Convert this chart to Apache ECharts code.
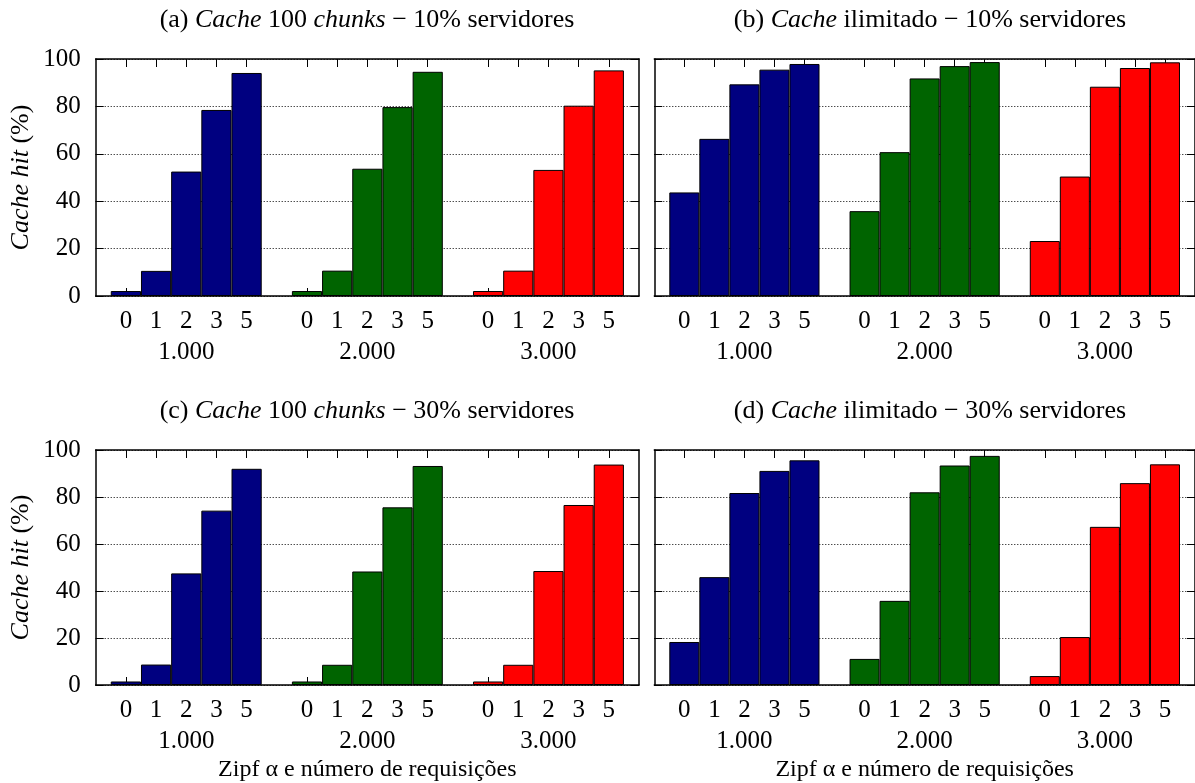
<!DOCTYPE html>
<html><head><meta charset="utf-8">
<script src="https://cdn.jsdelivr.net/npm/echarts@6/dist/echarts.min.js"></script>
<style>html,body{margin:0;padding:0;background:#fff}#c{width:1195px;height:783px}</style>
</head><body><div id="c"></div>
<script>
// ---- data ----
const alphas = ['0', '1', '2', '3', '5'];
const requests = ['1.000', '2.000', '3.000'];
const yTicks = [0, 20, 40, 60, 80, 100];
const titleA = '(a) {i|Cache} 100 {i|chunks} \u2212 10% servidores';
const titleB = '(b) {i|Cache} ilimitado \u2212 10% servidores';
const titleC = '(c) {i|Cache} 100 {i|chunks} \u2212 30% servidores';
const titleD = '(d) {i|Cache} ilimitado \u2212 30% servidores';
const yName = '{i|Cache hit} (%)';
const xName = 'Zipf \u03b1 e n\u00famero de requisi\u00e7\u00f5es';
// panel (a): one array per request count, values per alpha
const a1000 = [2.1, 10.6, 52.5, 78.5, 94.1];
const a2000 = [2.1, 10.7, 53.7, 79.7, 94.6];
const a3000 = [2.1, 10.7, 53.2, 80.3, 95.2];
// panel (b)
const b1000 = [43.7, 66.3, 89.3, 95.5, 97.9];
const b2000 = [35.8, 60.7, 91.8, 97.0, 98.7];
const b3000 = [23.2, 50.4, 88.3, 96.2, 98.6];
// panel (c)
const c1000 = [1.5, 8.7, 47.5, 74.2, 92.0];
const c2000 = [1.5, 8.6, 48.3, 75.6, 93.2];
const c3000 = [1.5, 8.6, 48.5, 76.6, 93.8];
// panel (d)
const d1000 = [18.3, 45.9, 81.7, 91.1, 95.6];
const d2000 = [11.1, 35.8, 82.0, 93.4, 97.5];
const d3000 = [3.8, 20.4, 67.3, 85.9, 93.9];
const colors = ['#000080', '#006400', '#ff0000'];

// ---- slots: empty, group0 (5), empty, group1, empty, group2, empty ----
const slots = [];
slots.push(null);
requests.forEach((r, g) => {
  alphas.forEach((a, i) => slots.push({g: g, i: i}));
  slots.push(null);
});
const catKeys = slots.map((s, k) => 'k' + k);

const FONT = 'Liberation Serif';
const FS = 25;     // tick labels
const FT = 26;     // titles and y name
const FX = 24;     // x name
const panels = [
  {title: titleA, data: [a1000, a2000, a3000], left: 95.7, top: 59, yname: true, xname: false, tx: 362},
  {title: titleB, data: [b1000, b2000, b3000], left: 654.3, top: 59, yname: false, xname: false, tx: 925},
  {title: titleC, data: [c1000, c2000, c3000], left: 95.7, top: 450, yname: true, xname: true, tx: 362},
  {title: titleD, data: [d1000, d2000, d3000], left: 654.3, top: 450, yname: false, xname: true, tx: 925}
];
const W = 543.3, H = 237;

const option = {animation: false, backgroundColor: '#fff', title: [], grid: [], xAxis: [], yAxis: [], series: []};
const isBar = (idx) => slots[idx] !== null;
const lineStyle = {color: '#000', width: 1.5};

panels.forEach((p, pi) => {
  option.grid.push({left: p.left, top: p.top, width: W, height: H, containLabel: false});
  option.title.push({
    text: p.title, left: p.tx, top: p.top - 57, textAlign: 'center',
    textStyle: {fontFamily: FONT, fontSize: FT, fontWeight: 'normal', color: '#000',
      rich: {i: {fontFamily: FONT, fontSize: FT, fontStyle: 'italic', color: '#000'}}}
  });
  const xi = option.xAxis.length;
  option.xAxis.push({
    type: 'category', gridIndex: pi, data: catKeys, boundaryGap: false, position: 'bottom',
    axisLine: {show: true, lineStyle: lineStyle},
    axisTick: {show: true, inside: true, length: 8, interval: (idx) => isBar(idx), lineStyle: {color: '#000', width: 1}},
    axisLabel: {show: true, interval: (idx) => isBar(idx), margin: 13,
      formatter: (v, idx) => isBar(idx) ? alphas[slots[idx].i] : '',
      fontFamily: FONT, fontSize: FS, color: '#000'},
    splitLine: {show: false}
  });
  option.xAxis.push({
    type: 'category', gridIndex: pi, data: catKeys, boundaryGap: false, position: 'bottom',
    axisLine: {show: false}, axisTick: {show: false},
    axisLabel: {show: true, interval: (idx) => isBar(idx) && slots[idx].i === 2, margin: 44,
      formatter: (v, idx) => (isBar(idx) && slots[idx].i === 2) ? requests[slots[idx].g] : '',
      fontFamily: FONT, fontSize: FS, color: '#000'},
    name: p.xname ? xName : '', nameLocation: 'middle', nameGap: 73,
    nameTextStyle: {fontFamily: FONT, fontSize: FX, color: '#000'},
    splitLine: {show: false}
  });
  option.xAxis.push({
    type: 'category', gridIndex: pi, data: catKeys, boundaryGap: false, position: 'top',
    axisLine: {show: true, lineStyle: lineStyle},
    axisTick: {show: true, inside: true, length: 8, interval: (idx) => isBar(idx), lineStyle: {color: '#000', width: 1}},
    axisLabel: {show: false}, splitLine: {show: false}
  });
  const yi = option.yAxis.length;
  option.yAxis.push({
    type: 'value', gridIndex: pi, min: yTicks[0], max: yTicks[yTicks.length - 1], interval: yTicks[1] - yTicks[0],
    position: 'left',
    axisLine: {show: true, lineStyle: lineStyle},
    axisTick: {show: true, inside: true, length: 8, lineStyle: {color: '#000', width: 1}},
    axisLabel: {show: pi % 2 === 0, margin: 15, fontFamily: FONT, fontSize: FS, color: '#000'},
    splitLine: {show: true, lineStyle: {color: '#000', width: 1, type: [1, 2]}},
    name: p.yname ? yName : '', nameLocation: 'middle', nameGap: 62, nameRotate: 90,
    nameTextStyle: {fontFamily: FONT, fontSize: FT, color: '#000',
      rich: {i: {fontFamily: FONT, fontSize: FT, fontStyle: 'italic', color: '#000'}}}
  });
  option.yAxis.push({
    type: 'value', gridIndex: pi, min: yTicks[0], max: yTicks[yTicks.length - 1], interval: yTicks[1] - yTicks[0],
    position: 'right',
    axisLine: {show: true, lineStyle: lineStyle},
    axisTick: {show: true, inside: true, length: 8, lineStyle: {color: '#000', width: 1}},
    axisLabel: {show: false}, splitLine: {show: false}
  });
  p.data.forEach((vals, g) => {
    const d = slots.map(s => (s && s.g === g) ? vals[s.i] : '-');
    option.series.push({
      type: 'bar', xAxisIndex: xi, yAxisIndex: yi, data: d,
      barWidth: '100%', barGap: '-100%',
      itemStyle: {color: colors[g], borderColor: '#000', borderWidth: 1},
      emphasis: {disabled: true}
    });
  });
});

const chart = echarts.init(document.getElementById('c'), null, {renderer: 'canvas'});
chart.setOption(option);
</script>
</body></html>
